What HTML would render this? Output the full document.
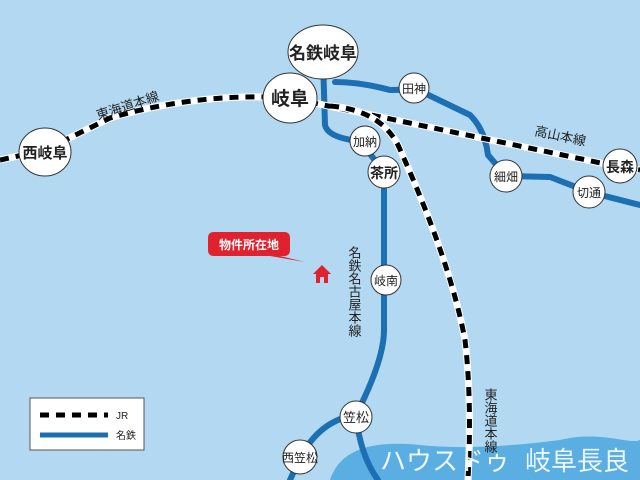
<!DOCTYPE html>
<html><head><meta charset="utf-8"><style>
body{margin:0;background:#b2d9f1;}
svg{display:block;font-family:"Liberation Sans","Noto Sans CJK JP",sans-serif;}
</style></head><body>
<svg width="640" height="480" viewBox="0 0 640 480">
<rect width="640" height="480" fill="#b2d9f1"/>
<path d="M330,480 C340,450 370,440 420,445 C470,450 520,445 560,440 C600,430 630,445 640,440 L640,480 Z" fill="#5aaee2"/>
<g fill="none" stroke="#1c6fb3" stroke-width="6" stroke-linecap="round">
<path d="M323,60 L325,125 Q328,138 360,141 L384,172 L384,330 Q384,360 356,415"/>
<path d="M356,415 Q360,455 378,480"/>
<path d="M356,415 Q320,420 300,458 L290,480"/>
<path d="M335,82 Q360,82 390,90 Q405,90 414,88 L470,115 Q485,130 488,155 L506,176 L550,177 L589,192 L640,205"/>
</g>
<g fill="none" stroke-width="6">
<path d="M0,160 L45,150 L110,118 Q200,92 290,98 L620,167 L640,170" stroke="#fff" stroke-width="7"/>
<path d="M0,160 L45,150 L110,118 Q200,92 290,98 L620,167 L640,170" stroke="#000" stroke-width="5" stroke-dasharray="9 7"/>
<path d="M330,106 Q380,110 398,145 Q450,260 465,340 Q472,400 468,480" stroke="#fff" stroke-width="7"/>
<path d="M330,106 Q380,110 398,145 Q450,260 465,340 Q472,400 468,480" stroke="#000" stroke-width="5" stroke-dasharray="9 7"/>
</g>
<g font-size="13" fill="#222">
<text x="98" y="120" transform="rotate(-18 98 120)">東海道本線</text>
<text x="534" y="135" transform="rotate(12 534 135)">高山本線</text>
<text x="354" y="246" style="writing-mode:vertical-rl">名鉄名古屋本線</text>
<text x="490" y="388" style="writing-mode:vertical-rl">東海道本線</text>
</g>
<g stroke="#333" stroke-width="1" fill="#fff">
<ellipse cx="323" cy="52" rx="35" ry="27"/>
<ellipse cx="290" cy="98" rx="27" ry="25"/>
<ellipse cx="45" cy="152" rx="26" ry="24"/>
<circle cx="414" cy="88" r="15"/>
<circle cx="365" cy="141" r="15"/>
<circle cx="384" cy="172" r="16"/>
<circle cx="506" cy="176" r="16"/>
<circle cx="589" cy="192" r="16"/>
<circle cx="620" cy="166" r="17"/>
<circle cx="386" cy="280" r="15"/>
<circle cx="356" cy="417" r="16"/>
<circle cx="300" cy="457" r="17"/>
</g>
<g text-anchor="middle" fill="#222">
<text x="323" y="59" font-size="17" font-weight="bold">名鉄岐阜</text>
<text x="290" y="105" font-size="19" font-weight="bold">岐阜</text>
<text x="45" y="158" font-size="15" font-weight="bold">西岐阜</text>
<text x="414" y="93" font-size="12">田神</text>
<text x="365" y="146" font-size="12">加納</text>
<text x="384" y="178" font-size="14" font-weight="bold">茶所</text>
<text x="506" y="181" font-size="12">細畑</text>
<text x="589" y="197" font-size="12">切通</text>
<text x="620" y="172" font-size="14" font-weight="bold">長森</text>
<text x="386" y="285" font-size="12">岐南</text>
<text x="356" y="422" font-size="13">笠松</text>
<text x="300" y="462" font-size="12">西笠松</text>
</g>
<path d="M214,232 H284 Q290,232 290,238 V250 Q290,256 284,256 H280 L305,262 L270,256 H214 Q208,256 208,250 V238 Q208,232 214,232Z" fill="#e0212e"/>
<text x="249" y="249" font-size="12" font-weight="bold" fill="#fff" text-anchor="middle">物件所在地</text>
<path d="M313,274 L322,265 L331,274 H328 V283 H316 V274Z" fill="#e0212e"/>
<rect x="320" y="277" width="4" height="6" fill="#b2d9f1"/>
<rect x="30" y="398" width="114" height="52" fill="#fff" stroke="#555" stroke-width="1"/>
<line x1="40" y1="415" x2="108" y2="415" stroke="#000" stroke-width="5" stroke-dasharray="9 7"/>
<text x="116" y="419" font-size="10" fill="#222">JR</text>
<line x1="40" y1="435" x2="108" y2="435" stroke="#1c6fb3" stroke-width="5"/>
<text x="116" y="439" font-size="10" fill="#222">名鉄</text>
<text x="380" y="470" font-size="26" fill="#fff" opacity="0.9">ハウスドゥ</text>
<text x="525" y="470" font-size="26" fill="#fff" opacity="0.9">岐阜長良</text>
</svg>
</body></html>
